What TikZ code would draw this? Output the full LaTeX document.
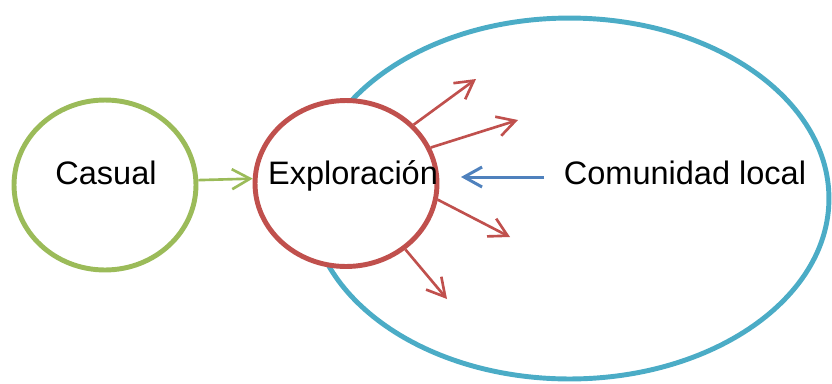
\documentclass[tikz,border=0pt]{standalone}
\usepackage{fontspec}
\setmainfont{Liberation Sans}
\usetikzlibrary{arrows.meta,shapes.geometric}
\definecolor{verde}{HTML}{9BBB59}
\definecolor{rojo}{HTML}{C0504D}
\definecolor{celeste}{HTML}{4BACC6}
\definecolor{azul}{HTML}{4F81BD}
\tikzset{flecha/.style={-{Straight Barb[length=3.6mm,width=4mm]},line width=1.5pt},
  circulo/.style={ellipse,inner sep=0pt,line width=2.8pt}}

\begin{document}
\begin{tikzpicture}[x=0.02cm,y=-0.02cm,font=\fontsize{18.5}{22}\selectfont]
     \useasboundingbox (0,0) rectangle (832,383);
     \node[circulo,draw=celeste,minimum width=10.38cm,minimum height=7.22cm] (comunidad) at (569.5,198.5) {};
     \node[circulo,draw=verde,minimum width=3.64cm,minimum height=3.4cm] (casual) at (105,185) {};
     \node[circulo,draw=rojo,fill=white,minimum width=3.64cm,minimum height=3.32cm] (expl) at (346,183.5) {};
     \node[anchor=base] (tcasual) at (106,184) {Casual};
     \node[anchor=base] (texpl) at (353,184) {Exploración};
     \node[anchor=base] (tcomunidad) at (685,184) {Comunidad local};
     \coordinate (p1) at (476,79);
     \coordinate (p2) at (518,120);
     \coordinate (p3) at (510,237);
     \coordinate (p4) at (447,299);
     \coordinate (b1) at (544,177);
     \coordinate (b2) at (461,177);
     \draw[flecha,verde] (casual.3) -- (expl.177);
     \draw[flecha,rojo] (expl.41.6) -- (p1);
     \draw[flecha,rojo] (expl.23.9) -- (p2);
     \draw[flecha,rojo] (expl.-10.3) -- (p3);
     \draw[flecha,rojo] (expl.-48.9) -- (p4);
     \draw[flecha,azul,line width=1.7pt] (b1) -- (b2);
\end{tikzpicture}
\end{document}
